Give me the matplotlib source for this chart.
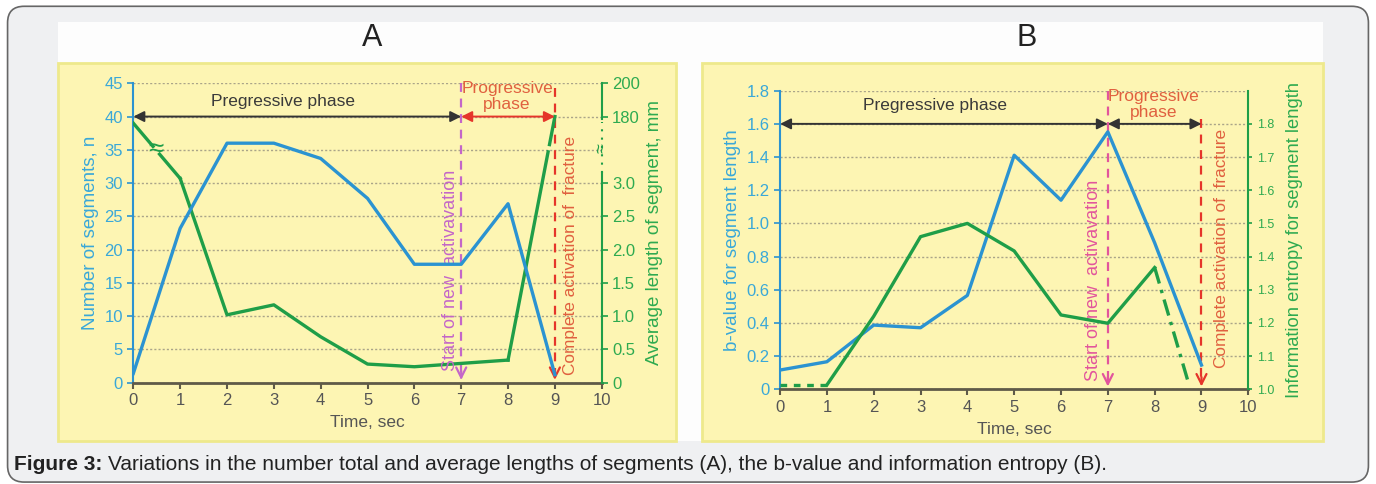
import numpy as np
import matplotlib.pyplot as plt
from matplotlib.patches import FancyBboxPatch, Rectangle

# === data ===
time = [0, 1, 2, 3, 4, 5, 6, 7, 8, 9]
segments_n = [1.4, 23.2, 36.0, 36.0, 33.7, 27.7, 17.8, 17.8, 26.9, 1.2]
avg_length_mm = [176, 3.07, 1.02, 1.17, 0.69, 0.28, 0.24, 0.29, 0.34, 180]

b_value = [0.116, 0.166, 0.387, 0.371, 0.566, 1.411, 1.14, 1.552, 0.883, 0.146]
entropy_time = [0, 1, 2, 3, 4, 5, 6, 7, 8, 8.72]
entropy = [1.013, 1.013, 1.22, 1.46, 1.50, 1.417, 1.224, 1.199, 1.367, 1.02]

left_ticks_a = [0, 5, 10, 15, 20, 25, 30, 35, 40, 45]
right_labels_a = ["0", "0.5", "1.0", "1.5", "2.0", "2.5", "3.0", "180", "200"]
left_ticks_b = [0, 0.2, 0.4, 0.6, 0.8, 1.0, 1.2, 1.4, 1.6, 1.8]
right_ticks_b = [1.0, 1.1, 1.2, 1.3, 1.4, 1.5, 1.6, 1.7, 1.8]
x_ticks = list(range(11))

# colours
BLUE = "#2b93d1"
BLUE_T = "#3aa8d8"
GREEN = "#1f9e48"
GREEN_T = "#2eaa50"
MAG_A = "#c466c8"
MAG_B = "#e2559c"
RED = "#e5352a"
RED_T = "#e0603f"
YELLOW = "#fdf5b3"
YBORDER = "#eee98c"
GRID = "#aaa489"

plt.rcParams["font.family"] = ["Liberation Sans", "DejaVu Sans"]

fig = plt.figure(figsize=(13.76, 4.84), dpi=100)
fig.patch.set_facecolor("white")

# background frame
fig.add_artist(FancyBboxPatch((0.0055, 0.004), 0.989, 0.983,
                              boxstyle="round,pad=0,rounding_size=0.012",
                              transform=fig.transFigure, mutation_aspect=2.84,
                              facecolor="#eff0f2", edgecolor="#666666",
                              lw=1.2, zorder=-11))
fig.add_artist(Rectangle((0.0422, 0.0888), 0.9193, 0.8657, transform=fig.transFigure,
                         facecolor="#fdfdfd", edgecolor="none", zorder=-10))
for x0, x1 in [(0.0422, 0.4913), (0.5102, 0.9615)]:
    fig.add_artist(Rectangle((x0, 0.0888), x1 - x0, 0.781, transform=fig.transFigure,
                             facecolor=YELLOW, edgecolor=YBORDER, lw=2, zorder=-9))

fig.text(0.2703, 0.921, "A", fontsize=22, ha="center", va="center", color="#222222")
fig.text(0.7464, 0.921, "B", fontsize=22, ha="center", va="center", color="#222222")

cap = fig.text(0.0102, 0.041, "Figure 3:", fontsize=15, fontweight="bold",
               ha="left", va="center", color="#222222")
fig.add_artist(plt.matplotlib.text.Annotation(
    "Variations in the number total and average lengths of segments (A), "
    "the b-value and information entropy (B).",
    xy=(1, 0.5), xycoords=cap, xytext=(4, 0), textcoords="offset points",
    fontsize=15, ha="left", va="center", color="#222222"))


def style_axes(ax, left_color):
    ax.set_facecolor("none")
    ax.set_xlim(0, 10)
    ax.set_xticks(x_ticks)
    ax.spines["top"].set_visible(False)
    ax.spines["right"].set_visible(False)
    ax.spines["left"].set_color(left_color)
    ax.spines["left"].set_linewidth(1.5)
    ax.spines["bottom"].set_color("#5f5a48")
    ax.spines["bottom"].set_linewidth(2)
    ax.tick_params(axis="x", colors="#5f5a48", labelcolor="#555555",
                   labelsize=12, length=4, width=1.5)
    ax.tick_params(axis="y", colors=left_color, labelcolor=BLUE_T,
                   labelsize=12, length=4, width=1.2)
    ax.yaxis.grid(True, linestyle=(0, (1.5, 1.5)), color=GRID, lw=1)
    ax.set_axisbelow(True)
    ax.set_xlabel("Time, sec", fontsize=12.5, color="#555555", labelpad=5)


# ================= panel A =================
axA = fig.add_axes([0.0969, 0.2093, 0.3404, 0.6186])
style_axes(axA, BLUE)
axA.set_ylim(0, 45)
axA.set_yticks(left_ticks_a)
axA.set_ylabel("Number of segments, n", fontsize=13.5, color=BLUE_T, labelpad=4)

axA.plot(time, segments_n, color=BLUE, lw=2.4, zorder=4)


def mm_pos(v):
    # broken right axis: 0-3.0 mm in the lower part, 180-200 mm on top
    return v * 10 if v < 50 else 40 + (v - 180) / 4


pos = [mm_pos(v) for v in avg_length_mm]
axA.plot(time[1:9], pos[1:9], color=GREEN, lw=2.4, zorder=3, solid_joinstyle="round")


def broken(ax, xa, ya, xb, yb, t0, t1, **kw):
    pa = (xa + (xb - xa) * t0, ya + (yb - ya) * t0)
    pb = (xa + (xb - xa) * t1, ya + (yb - ya) * t1)
    ax.plot([xa, pa[0]], [ya, pa[1]], **kw)
    ax.plot([pb[0], xb], [pb[1], yb], **kw)
    return pa, pb


pa, pb = broken(axA, time[0], pos[0], time[1], pos[1], 0.42, 0.56,
                color=GREEN, lw=2.4, zorder=3)
axA.text((pa[0] + pb[0]) / 2, (pa[1] + pb[1]) / 2, "≈", color=GREEN, fontsize=20,
         ha="center", va="center", zorder=5)
broken(axA, time[8], pos[8], time[9], pos[9], 0.855, 0.885,
       color=GREEN, lw=2.4, zorder=3)

# broken right axis of panel A
axA2 = axA.twinx()
axA2.set_ylim(0, 45)
axA2.set_yticks([0, 5, 10, 15, 20, 25, 30, 40, 45])
axA2.set_yticklabels(right_labels_a)
for s in ["top", "left", "bottom", "right"]:
    axA2.spines[s].set_visible(False)
axA2.tick_params(axis="y", colors=GREEN, labelcolor=GREEN_T, labelsize=12,
                 length=4, width=1.2)
axA2.set_ylabel("Average length of segment, mm", fontsize=13.5, color=GREEN_T,
                labelpad=4)
axA.plot([10, 10], [0, 31.5], color=GREEN, lw=1.5, clip_on=False, zorder=6)
axA.plot([10, 10], [31.5, 39.2], color=GREEN, lw=1.5, ls=(0, (1, 3)),
         clip_on=False, zorder=6)
axA.plot([10, 10], [39.7, 45], color=GREEN, lw=1.5, clip_on=False, zorder=6)
axA.text(10, 35.2, "≈", color=GREEN, fontsize=13, rotation=90,
         ha="center", va="center", zorder=6, clip_on=False)

# annotations A
axA.plot([7, 7], [45, 0.6], color=MAG_A, lw=1.6, ls=(0, (4, 3)), zorder=2)
axA.annotate("", xy=(7, 0), xytext=(7, 2.2),
             arrowprops=dict(arrowstyle="->", color=MAG_A, lw=1.6, mutation_scale=18))
axA.plot([9, 9], [44.3, 0.6], color=RED, lw=1.6, ls=(0, (4, 3)), zorder=2)
axA.annotate("", xy=(9, 0), xytext=(9, 2.2),
             arrowprops=dict(arrowstyle="->", color=RED, lw=1.6, mutation_scale=18))
axA.text(6.78, 1.7, "Start of new  activavation", rotation=90, color=MAG_A,
         fontsize=13, ha="center", va="bottom")
axA.text(9.33, 1.2, "Complete activation of  fracture", rotation=90, color=RED_T,
         fontsize=12.4, ha="center", va="bottom")

axA.annotate("", xy=(0, 40), xytext=(7, 40),
             arrowprops=dict(arrowstyle="<|-|>", color="#333333", lw=1.4,
                             mutation_scale=16, shrinkA=0, shrinkB=0))
axA.annotate("", xy=(7, 40), xytext=(9, 40),
             arrowprops=dict(arrowstyle="<|-|>", color=RED, lw=1.4,
                             mutation_scale=16, shrinkA=0, shrinkB=0))
axA.text(3.2, 42.2, "Pregressive phase", fontsize=12.5, color="#3a3a3a",
         ha="center", va="center")
axA.text(7.98, 40.7, "Progressive\nphase", fontsize=12.5, color=RED_T,
         ha="center", va="bottom", linespacing=1.05)

# ================= panel B =================
axB = fig.add_axes([0.5669, 0.1957, 0.3403, 0.6169])
style_axes(axB, BLUE)
axB.set_ylim(0, 1.8)
axB.set_yticks(left_ticks_b)
axB.set_yticklabels([f"{v:.1f}" if v else "0" for v in left_ticks_b])
axB.set_ylabel("b-value for segment length", fontsize=13.5, color=BLUE_T, labelpad=4)

axB.plot(time, b_value, color=BLUE, lw=2.4, zorder=4)

axB2 = axB.twinx()
axB2.set_ylim(1.0, 1.9)
axB2.set_yticks(right_ticks_b)
for s in ["top", "left", "bottom"]:
    axB2.spines[s].set_visible(False)
axB2.spines["right"].set_color(GREEN)
axB2.spines["right"].set_linewidth(1.5)
axB2.tick_params(axis="y", colors=GREEN, labelcolor=GREEN_T, labelsize=9,
                 length=3, width=1.2)
axB2.set_ylabel("Information entropy for segment length", fontsize=13.2,
                color=GREEN_T, labelpad=8)
axB2.plot(entropy_time[0:2], entropy[0:2], color=GREEN, lw=2.4, ls=(0, (2, 2)))
axB2.plot(entropy_time[1:9], entropy[1:9], color=GREEN, lw=2.4, zorder=3)
axB2.plot(entropy_time[8:10], entropy[8:10], color=GREEN, lw=2.4,
          ls=(0, (5, 2, 1, 2)))

axB.plot([7, 7], [1.8, 0.04], color=MAG_B, lw=1.6, ls=(0, (4, 3)), zorder=2)
axB.annotate("", xy=(7, 0), xytext=(7, 0.09),
             arrowprops=dict(arrowstyle="->", color=MAG_B, lw=1.6, mutation_scale=18))
axB.plot([9, 9], [1.63, 0.04], color=RED, lw=1.6, ls=(0, (4, 3)), zorder=2)
axB.annotate("", xy=(9, 0), xytext=(9, 0.09),
             arrowprops=dict(arrowstyle="->", color=RED, lw=1.6, mutation_scale=18))
axB.text(6.7, 0.05, "Start of new  activavation", rotation=90, color=MAG_B,
         fontsize=13, ha="center", va="bottom")
axB.text(9.42, 0.13, "Complete activation of  fracture", rotation=90, color=RED_T,
         fontsize=12.4, ha="center", va="bottom")

axB.annotate("", xy=(0, 1.6), xytext=(7, 1.6),
             arrowprops=dict(arrowstyle="<|-|>", color="#333333", lw=1.4,
                             mutation_scale=16, shrinkA=0, shrinkB=0))
axB.annotate("", xy=(7, 1.6), xytext=(9, 1.6),
             arrowprops=dict(arrowstyle="<|-|>", color="#333333", lw=1.4,
                             mutation_scale=16, shrinkA=0, shrinkB=0))
axB.text(3.3, 1.71, "Pregressive phase", fontsize=12.5, color="#3a3a3a",
         ha="center", va="center")
axB.text(7.98, 1.625, "Progressive\nphase", fontsize=12.5, color=RED_T,
         ha="center", va="bottom", linespacing=1.05)

fig.savefig("out.png", dpi=100)
